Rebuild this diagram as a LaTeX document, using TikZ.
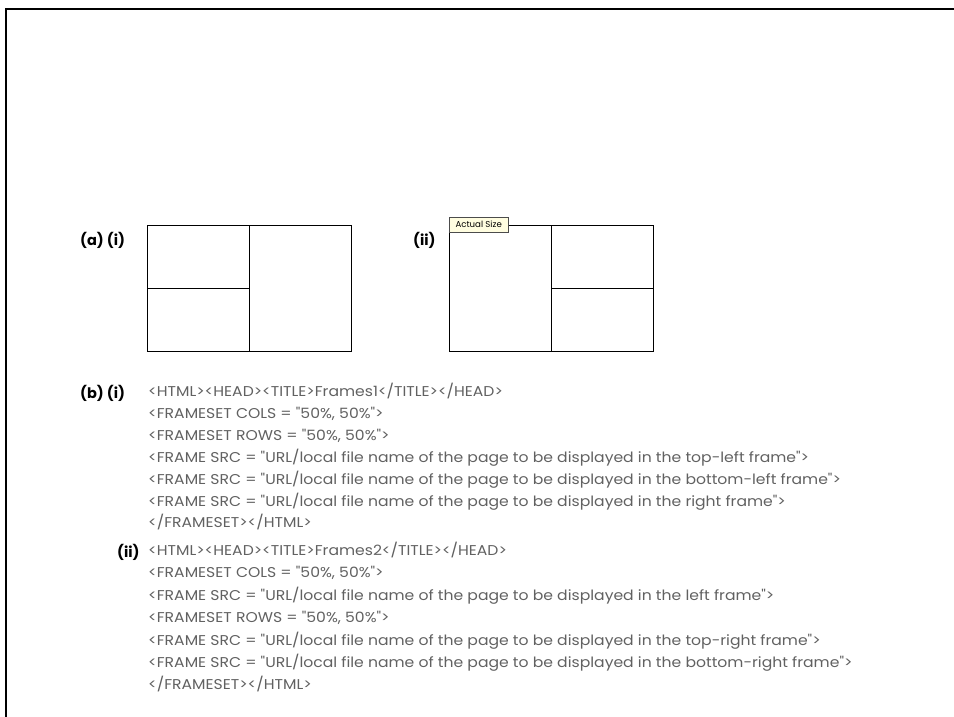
\documentclass[tikz,border=0pt]{standalone}
\usepackage{fontspec}
\setmainfont{Poppins}
\newfontfamily\codefont{Poppins}[FakeStretch=1.1]
\usetikzlibrary{positioning}

\begin{document}
\begin{tikzpicture}[x=1pt, y=-1pt,
    pane/.style={draw, line width=1pt, minimum width=204pt, minimum height=126pt, inner sep=0pt},
    divider/.style={line width=1pt},
    tag/.style={anchor=west, inner sep=0pt, font=\fontsize{14.5}{16}\selectfont\bfseries},
    code/.style={anchor=west, inner sep=0pt, text=black!62, text height=10pt, text depth=3pt, font=\codefont\fontsize{14.2}{16}\selectfont},
    tip/.style={draw=black!70, fill=yellow!12, inner sep=1pt, font=\fontsize{8.6}{9}\selectfont, anchor=north west, minimum height=15pt, minimum width=59pt},
    ]
    \useasboundingbox (0,0) rectangle (954,717);

    % outer page edge
    \draw[line width=2pt] (954,9) -- (6,9) -- (6,717);

    % (a) the two frame layouts
    \node[tag] (ai) at (80,240) {(a) (i)};
    \node[pane, anchor=north west] (frameA) at (147,225) {};
    \draw[divider] (frameA.north) -- (frameA.south);
    \draw[divider] (frameA.west) -- (frameA.center);

    \node[tag] (aii) at (413,240) {(ii)};
    \node[pane, anchor=north west] (frameB) at (449,225) {};
    \draw[divider] (frameB.north) -- (frameB.south);
    \draw[divider] (frameB.center) -- (frameB.east);
    \node[tip] (tip) at (449,217) {Actual Size};

    % (b)(i) code
    \node[tag] (bi) at (80,393) {(b) (i)};
    \node[code] (c1) at (148,393) {<HTML><HEAD><TITLE>Frames1</TITLE></HEAD>};
    \node[code, below=8.5pt of c1.south west, anchor=north west] (c2) {<FRAMESET COLS = "50\%, 50\%">};
    \node[code, below=8.5pt of c2.south west, anchor=north west] (c3) {<FRAMESET ROWS = "50\%, 50\%">};
    \node[code, below=8.5pt of c3.south west, anchor=north west] (c4) {<FRAME SRC = "URL/local file name of the page to be displayed in the top-left frame">};
    \node[code, below=8.5pt of c4.south west, anchor=north west] (c5) {<FRAME SRC = "URL/local file name of the page to be displayed in the bottom-left frame">};
    \node[code, below=8.5pt of c5.south west, anchor=north west] (c6) {<FRAME SRC = "URL/local file name of the page to be displayed in the right frame">};
    \node[code, below=8.5pt of c6.south west, anchor=north west] (c7) {</FRAMESET></HTML>};

    % (b)(ii) code
    \node[tag] (bii) at (117,552) {(ii)};
    \node[code] (d1) at (148,552) {<HTML><HEAD><TITLE>Frames2</TITLE></HEAD>};
    \node[code, below=9pt of d1.south west, anchor=north west] (d2) {<FRAMESET COLS = "50\%, 50\%">};
    \node[code, below=9pt of d2.south west, anchor=north west] (d3) {<FRAME SRC = "URL/local file name of the page to be displayed in the left frame">};
    \node[code, below=9pt of d3.south west, anchor=north west] (d4) {<FRAMESET ROWS = "50\%, 50\%">};
    \node[code, below=9pt of d4.south west, anchor=north west] (d5) {<FRAME SRC = "URL/local file name of the page to be displayed in the top-right frame">};
    \node[code, below=9pt of d5.south west, anchor=north west] (d6) {<FRAME SRC = "URL/local file name of the page to be displayed in the bottom-right frame">};
    \node[code, below=9pt of d6.south west, anchor=north west] (d7) {</FRAMESET></HTML>};
\end{tikzpicture}
\end{document}
